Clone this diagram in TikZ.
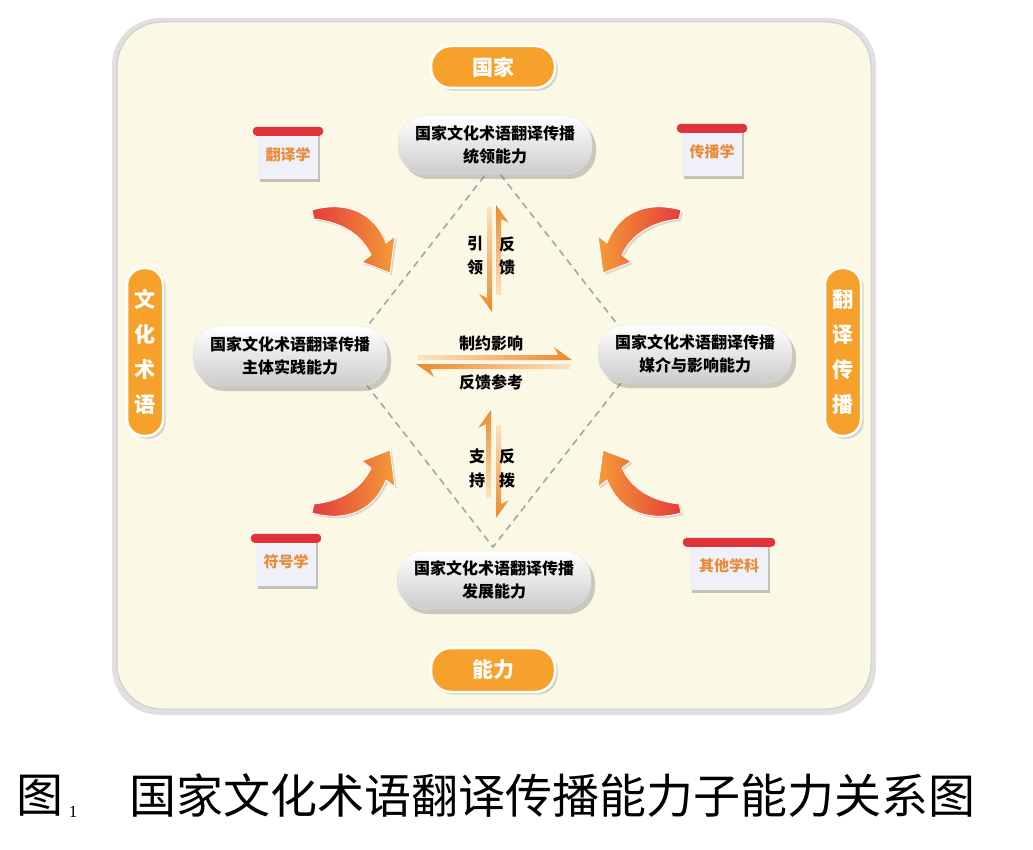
\documentclass[tikz,border=0pt]{standalone}
\usepackage{fontspec}
\setmainfont{Noto Sans CJK SC}
\newfontfamily\serifnum{Liberation Serif}
\usetikzlibrary{shadows,calc}
\definecolor{panel}{HTML}{FCF8E6}
\definecolor{pill}{HTML}{F5A12B}
\definecolor{capred}{HTML}{E2323A}
\definecolor{labtext}{HTML}{E98A3A}
\definecolor{labbody}{HTML}{F0F1F8}
\definecolor{arrred}{HTML}{E53B3D}
\definecolor{arrorange}{HTML}{F39C36}
\definecolor{harrow}{HTML}{EC8A2C}
\definecolor{harrowlight}{HTML}{FBE3C2}
\begin{document}
\begin{tikzpicture}[x=1pt,y=-1pt,
 mainbox/.style={rounded corners=27pt, minimum width=194pt, minimum height=58pt,
   top color=white, bottom color=black!20, draw=black!10,
   drop shadow={opacity=0.4, shadow xshift=4pt, shadow yshift=-5pt},
   align=center, font=\bfseries\fontsize{16}{23}\selectfont, inner sep=2pt},
 pillh/.style={fill=pill, draw=white, line width=2.5pt, rounded corners=20pt,
   minimum width=124pt, minimum height=42pt, text=white,
   font=\bfseries\fontsize{21}{24}\selectfont, drop shadow={opacity=0.3}},
 pillv/.style={fill=pill, draw=white, line width=2.5pt, rounded corners=17pt,
   minimum width=36pt, minimum height=168pt, text=white, align=center,
   font=\bfseries\fontsize{21}{35}\selectfont, drop shadow={opacity=0.3}, inner sep=0pt},
 labbox/.style={fill=labbody, minimum width=60pt, minimum height=48pt, text=labtext,
   font=\bfseries\fontsize{15}{18}\selectfont,
   drop shadow={opacity=0.45, shadow xshift=2pt, shadow yshift=-3pt}},
 capbar/.style={fill=capred, rounded corners=4pt},
 ctext/.style={font=\bfseries\fontsize{16}{24}\selectfont, align=center},
 diag/.style={draw=black!35, dash pattern=on 7pt off 5pt, line width=1.6pt},
 carrow/.style={draw=white, line width=0.8pt, drop shadow={opacity=0.25, shadow xshift=2pt, shadow yshift=-2pt}}
]
\useasboundingbox[fill=white] (0,0) rectangle (1033,850);

% panel
\fill[black!12, rounded corners=48pt] (112,18) rectangle (876,715);
\fill[panel, draw=black!20, line width=1pt, rounded corners=45pt] (117,22) rectangle (871,709);

% dashed diamond
\draw[diag] (493,165) -- (642,356) -- (493,547) -- (344,356) -- cycle;

% curved arrows
\shade[carrow, left color=arrred, right color=arrorange]
  (312,210) .. controls (348,200) and (375,214) .. (386,243) -- (395,236) -- (390,273)
  -- (362,262) -- (371,255) .. controls (362,235) and (342,222) .. (314,219) -- cycle;
\begin{scope}[shift={(993,0)}, xscale=-1]
\shade[carrow, left color=arrorange, right color=arrred]
  (312,210) .. controls (348,200) and (375,214) .. (386,243) -- (395,236) -- (390,273)
  -- (362,262) -- (371,255) .. controls (362,235) and (342,222) .. (314,219) -- cycle;
\end{scope}
\begin{scope}[shift={(0,723)}, yscale=-1]
\shade[carrow, left color=arrred, right color=arrorange]
  (312,210) .. controls (348,200) and (375,214) .. (386,243) -- (395,236) -- (390,273)
  -- (362,262) -- (371,255) .. controls (362,235) and (342,222) .. (314,219) -- cycle;
\end{scope}
\begin{scope}[shift={(993,723)}, xscale=-1, yscale=-1]
\shade[carrow, left color=arrorange, right color=arrred]
  (312,210) .. controls (348,200) and (375,214) .. (386,243) -- (395,236) -- (390,273)
  -- (362,262) -- (371,255) .. controls (362,235) and (342,222) .. (314,219) -- cycle;
\end{scope}

% half arrows
\shade[top color=harrowlight, bottom color=harrow]
  (487,207) -- (492,207) -- (492,312) -- (479,294) -- (487,298) -- cycle;
\shade[top color=harrow, bottom color=harrowlight]
  (496,295) -- (496,205) -- (509,223) -- (501,219) -- (501,295) -- cycle;
\shade[top color=harrow, bottom color=harrowlight]
  (486,498) -- (486,424) -- (478,428) -- (491,410) -- (491,498) -- cycle;
\shade[top color=harrowlight, bottom color=harrow]
  (496,425) -- (501,425) -- (501,504) -- (509,500) -- (496,518) -- cycle;
\shade[left color=harrowlight, right color=harrow]
  (418,355) -- (558,355) -- (554,347) -- (572,360) -- (418,360) -- cycle;
\shade[left color=harrow, right color=harrowlight]
  (570,369) -- (430,369) -- (434,377) -- (416,364) -- (570,364) -- cycle;

% arrow labels
\node[ctext] (yl) at (475,256) {引\\领};
\node[ctext] (fk) at (507,256) {反\\馈};
\node[ctext] (zc) at (477,468) {支\\持};
\node[ctext] (fb) at (507,468) {反\\拨};
\node[ctext] (zy) at (491,343) {制约影响};
\node[ctext] (fc) at (491,382) {反馈参考};

% discipline labels
\node[labbox] (l1) at (288,155) {翻译学};
\fill[capbar] ($(l1.north west)+(-5,-4)$) rectangle ($(l1.north east)+(5,5)$);
\node[labbox] (l2) at (712,152) {传播学};
\fill[capbar] ($(l2.north west)+(-5,-4)$) rectangle ($(l2.north east)+(5,5)$);
\node[labbox] (l3) at (286,562) {符号学};
\fill[capbar] ($(l3.north west)+(-5,-4)$) rectangle ($(l3.north east)+(5,5)$);
\node[labbox, minimum width=78pt] (l4) at (729,566) {其他学科};
\fill[capbar] ($(l4.north west)+(-7,-4)$) rectangle ($(l4.north east)+(7,5)$);

% orange pills
\node[pillh] (gj) at (493,67) {国家};
\node[pillh, minimum height=44pt] (nl) at (493,670) {能力};
\node[pillv] (wh) at (145,352) {文\\化\\术\\语};
\node[pillv] (fy) at (843,352) {翻\\译\\传\\播};

% main boxes
\node[mainbox] (top) at (495,145) {国家文化术语翻译传播\\统领能力};
\node[mainbox, minimum height=60pt] (left) at (290,356) {国家文化术语翻译传播\\主体实践能力};
\node[mainbox] (right) at (695,354) {国家文化术语翻译传播\\媒介与影响能力};
\node[mainbox] (bot) at (494,580) {国家文化术语翻译传播\\发展能力};

% caption
\node[font=\fontsize{47}{50}\selectfont] (tu) at (40,796) {图};
\node[font=\serifnum\fontsize{17}{20}\selectfont] (one) at (73,812) {1};
\node[font=\fontsize{47}{50}\selectfont] (cap) at (552,796) {国家文化术语翻译传播能力子能力关系图};
\end{tikzpicture}
\end{document}
